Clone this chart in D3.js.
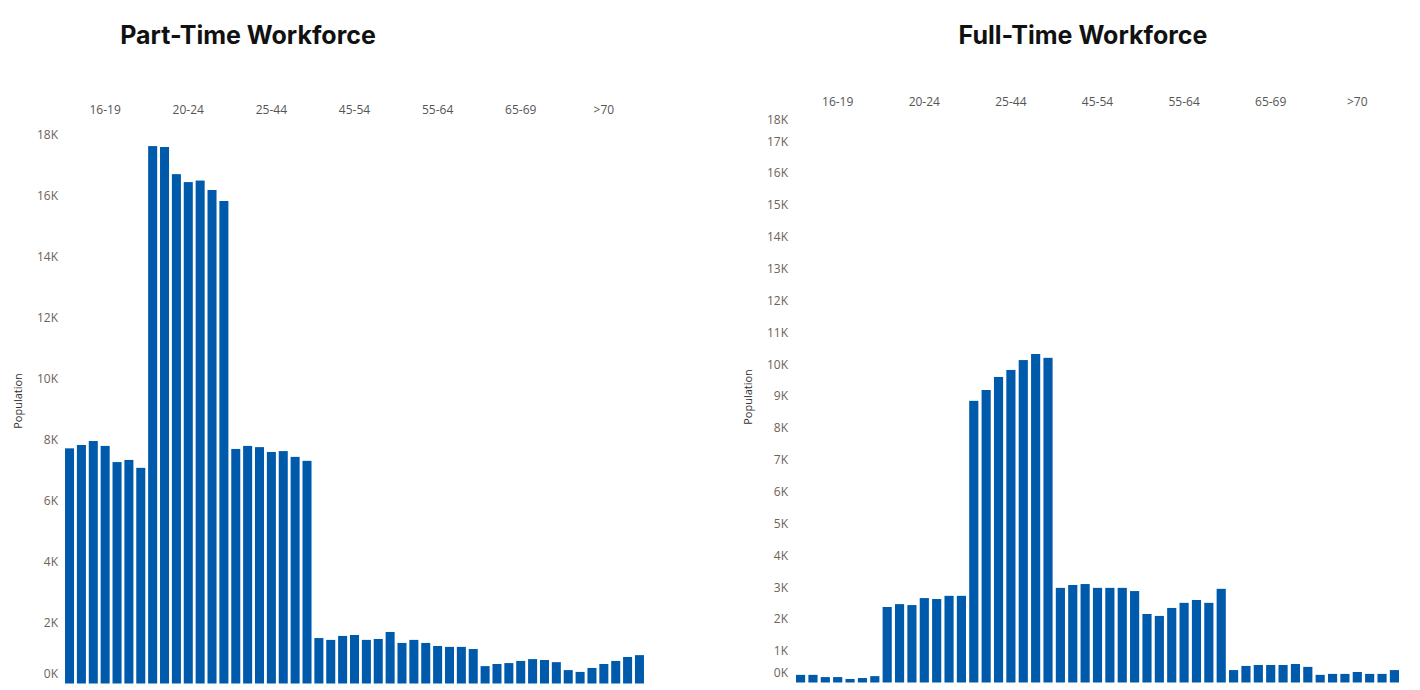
<!DOCTYPE html>
<html><head><meta charset="utf-8">
<script src="https://cdn.jsdelivr.net/npm/d3@7"></script>
<style>
body{margin:0;background:#fff;}
svg{display:block;}
</style></head>
<body><svg id="c" width="1420" height="690"></svg>
<script>
const ageGroups = ["16-19","20-24","25-44","45-54","55-64","65-69",">70"];
const barsPerGroup = 7;
// Part-time workforce population, 7 bars per age group
const partTime = [
  7710,7820,7950,7790,7260,7330,7070,
  17620,17590,16700,16440,16490,16180,15820,
  7690,7790,7750,7590,7620,7430,7300,
  1490,1430,1560,1590,1430,1460,1690,
  1330,1430,1330,1230,1200,1200,1130,
  570,640,670,740,800,770,700,
  440,380,510,640,740,870,930
];
// Full-time workforce population
const fullTime = [
  240,240,170,170,110,140,200,
  2370,2460,2430,2650,2620,2720,2720,
  8840,9180,9590,9810,10120,10310,10190,
  2970,3060,3090,2970,2970,2970,2870,
  2150,2090,2340,2500,2590,2500,2940,
  390,520,550,550,550,580,490,
  240,270,270,330,270,270,390
];
const leftTicks = [0,2000,4000,6000,8000,10000,12000,14000,16000,18000];
const rightTicks = [0,1000,2000,3000,4000,5000,6000,7000,8000,9000,10000,11000,12000,13000,14000,15000,16000,17000,18000];

const svg = d3.select("#c");
const fmt = v => Math.round(v/1000) + "K";

function panel(cfg){
  const g = svg.append("g");
  const idx = d3.range(cfg.values.length);
  const x = d3.scaleBand().domain(idx).range(cfg.xr).paddingInner(cfg.pi).paddingOuter(cfg.po);
  const y = d3.scaleLinear().domain(cfg.yd).range(cfg.yr);

  g.append("text").attr("x", cfg.titleX).attr("y", 44)
    .attr("text-anchor","middle")
    .style("font-family","Inter, 'Liberation Sans', sans-serif")
    .style("font-weight","700").style("font-size","25px").style("fill","#111")
    .text(cfg.title);

  g.selectAll("rect.bar").data(cfg.values).join("rect")
    .attr("class","bar")
    .attr("x",(d,i)=>x(i)).attr("width",x.bandwidth())
    .attr("y",d=>y(d)).attr("height",d=>y(0)-y(d))
    .attr("fill","#005aab");

  // group headers
  g.selectAll("text.grp").data(ageGroups).join("text")
    .attr("class","grp")
    .attr("x",(d,i)=>{const a=x(i*barsPerGroup), b=x(i*barsPerGroup+barsPerGroup-1)+x.bandwidth(); return (a+b)/2;})
    .attr("y",cfg.grpY)
    .attr("text-anchor","middle")
    .style("font-family","'Open Sans', 'Noto Sans', sans-serif").style("font-size","12px").style("fill","#555")
    .text(d=>d);

  // y axis labels
  const ax = d3.axisLeft(y).tickValues(cfg.ticks).tickFormat(fmt).tickSize(0).tickPadding(0);
  const ag = g.append("g").attr("transform",`translate(${cfg.axX},0)`).call(ax);
  ag.select(".domain").remove();
  ag.selectAll("text")
    .style("font-family","'Open Sans', 'Noto Sans', sans-serif").style("font-size","12px").style("fill","#6e625a")
    .attr("dy","0.35em")
    .attr("transform",d=>{
      const py=y(d);
      if(py>cfg.yr[0]-12) return `translate(0,${cfg.yr[0]-10-py})`;
      if(py<cfg.clipTop) return `translate(0,${cfg.clipTop-py})`;
      return null;
    });

  g.append("text")
    .attr("transform",`translate(${cfg.popX},${cfg.popY}) rotate(-90)`)
    .attr("text-anchor","middle")
    .style("font-family","'Open Sans', 'Noto Sans', sans-serif").style("font-size","11px").style("fill","#333")
    .text("Population");
}

panel({
  title:"Part-Time Workforce", titleX:248,
  values:partTime, xr:[63.6,645.4], pi:0.24, po:0.12,
  yd:[0,18000], yr:[683.5,134.5], ticks:leftTicks, axX:58, clipTop:0,
  grpY:114, popX:22, popY:401
});
panel({
  title:"Full-Time Workforce", titleX:1083,
  values:fullTime, xr:[794.4,1400.6], pi:0.26, po:0.13,
  yd:[0,18000], yr:[682.5,109], ticks:rightTicks, axX:788, clipTop:119,
  grpY:106, popX:752, popY:397
});
</script></body></html>
